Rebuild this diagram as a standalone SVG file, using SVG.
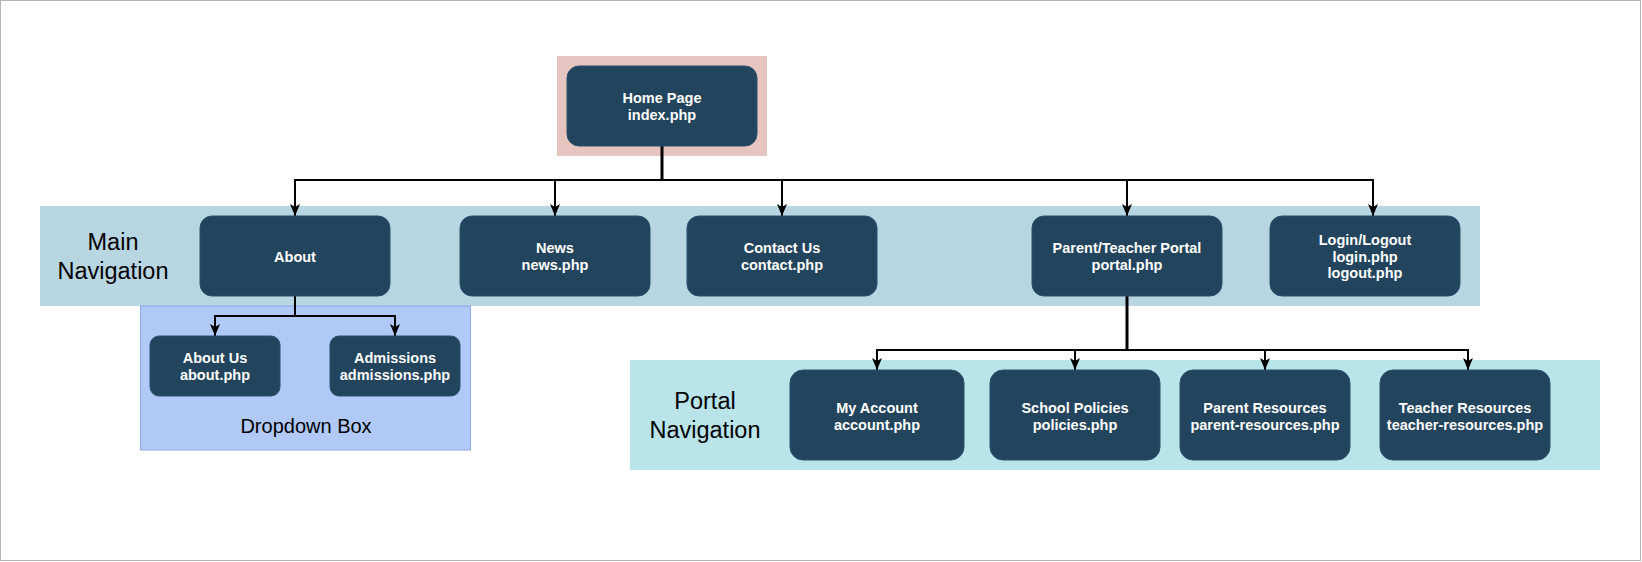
<svg xmlns="http://www.w3.org/2000/svg" width="1642" height="562" viewBox="0 0 1642 562">
  <style>
    .node rect { fill: #23445D; stroke: #2B5170; stroke-width: 1; }
    .node text { fill: #FFFFFF; font-family: "Liberation Sans", Arial, sans-serif; font-weight: bold; font-size: 14.5px; text-anchor: middle; }
    .lbl { fill: #000000; font-family: "Liberation Sans", Arial, sans-serif; text-anchor: middle; }
    .edge { fill: none; stroke: #000000; stroke-width: 2; marker-end: url(#arrow); }
    .trunk { fill: none; stroke: #000000; stroke-width: 3; }
  </style>
  <defs>
    <marker id="arrow" viewBox="0 0 12 10" refX="12" refY="5" markerWidth="12" markerHeight="10" markerUnits="userSpaceOnUse" orient="auto">
      <path d="M0,0 L12,5 L0,10 L3,5 Z" fill="#000000"/>
    </marker>
  </defs>
  <rect x="0.5" y="0.5" width="1640" height="560" fill="#FFFFFF" stroke="#B3B3B3" stroke-width="1"/>

  <g id="containers">
    <rect id="home-bg" x="557" y="56" width="210" height="100" fill="#E6C4BF"/>
    <rect id="main-nav-band" x="40" y="206" width="1440" height="100" fill="#B8D5E2"/>
    <rect id="dropdown-box" x="140.5" y="306" width="330" height="144" fill="#B1C9F7" stroke="#8EA8EE" stroke-width="1"/>
    <rect id="portal-nav-band" x="630" y="360" width="970" height="110" fill="#B9E4E9"/>
    <text class="lbl" font-size="23.5" x="113" y="250">Main</text>
    <text class="lbl" font-size="23.5" x="113" y="279">Navigation</text>
    <text class="lbl" font-size="20" x="306" y="433">Dropdown Box</text>
    <text class="lbl" font-size="23.5" x="705" y="409">Portal</text>
    <text class="lbl" font-size="23.5" x="705" y="438">Navigation</text>
  </g>

  <g id="connectors">
    <path class="trunk" d="M662,146 V180"/>
    <path class="edge" d="M662,180 H295 V216"/>
    <path class="edge" d="M662,180 H555 V216"/>
    <path class="edge" d="M662,180 H782 V216"/>
    <path class="edge" d="M662,180 H1127 V216"/>
    <path class="edge" d="M662,180 H1373 V216"/>
    <path class="edge" d="M295,296 V316 H215 V336"/>
    <path class="edge" d="M295,316 H395 V336"/>
    <path class="trunk" d="M1127,296 V350"/>
    <path class="edge" d="M1127,350 H877 V370"/>
    <path class="edge" d="M1127,350 H1075 V370"/>
    <path class="edge" d="M1127,350 H1265 V370"/>
    <path class="edge" d="M1127,350 H1468 V370"/>
  </g>

  <g id="home" class="node">
    <rect x="567" y="66" width="190" height="80" rx="12"/>
    <text x="662" y="103">Home Page</text>
    <text x="662" y="120">index.php</text>
  </g>
  <g id="about" class="node">
    <rect x="200" y="216" width="190" height="80" rx="12"/>
    <text x="295" y="261.5">About</text>
  </g>
  <g id="news" class="node">
    <rect x="460" y="216" width="190" height="80" rx="12"/>
    <text x="555" y="253">News</text>
    <text x="555" y="270">news.php</text>
  </g>
  <g id="contact" class="node">
    <rect x="687" y="216" width="190" height="80" rx="12"/>
    <text x="782" y="253">Contact Us</text>
    <text x="782" y="270">contact.php</text>
  </g>
  <g id="portal" class="node">
    <rect x="1032" y="216" width="190" height="80" rx="12"/>
    <text x="1127" y="253">Parent/Teacher Portal</text>
    <text x="1127" y="270">portal.php</text>
  </g>
  <g id="login" class="node">
    <rect x="1270" y="216" width="190" height="80" rx="12"/>
    <text x="1365" y="245">Login/Logout</text>
    <text x="1365" y="261.7">login.php</text>
    <text x="1365" y="278.3">logout.php</text>
  </g>
  <g id="about-us" class="node">
    <rect x="150" y="336" width="130" height="60" rx="9"/>
    <text x="215" y="363">About Us</text>
    <text x="215" y="380">about.php</text>
  </g>
  <g id="admissions" class="node">
    <rect x="330" y="336" width="130" height="60" rx="9"/>
    <text x="395" y="363">Admissions</text>
    <text x="395" y="380">admissions.php</text>
  </g>
  <g id="account" class="node">
    <rect x="790" y="370" width="174" height="90" rx="13"/>
    <text x="877" y="413">My Account</text>
    <text x="877" y="430">account.php</text>
  </g>
  <g id="policies" class="node">
    <rect x="990" y="370" width="170" height="90" rx="13"/>
    <text x="1075" y="413">School Policies</text>
    <text x="1075" y="430">policies.php</text>
  </g>
  <g id="parent-resources" class="node">
    <rect x="1180" y="370" width="170" height="90" rx="13"/>
    <text x="1265" y="413">Parent Resources</text>
    <text x="1265" y="430">parent-resources.php</text>
  </g>
  <g id="teacher-resources" class="node">
    <rect x="1380" y="370" width="170" height="90" rx="13"/>
    <text x="1465" y="413">Teacher Resources</text>
    <text x="1465" y="430">teacher-resources.php</text>
  </g>
</svg>
